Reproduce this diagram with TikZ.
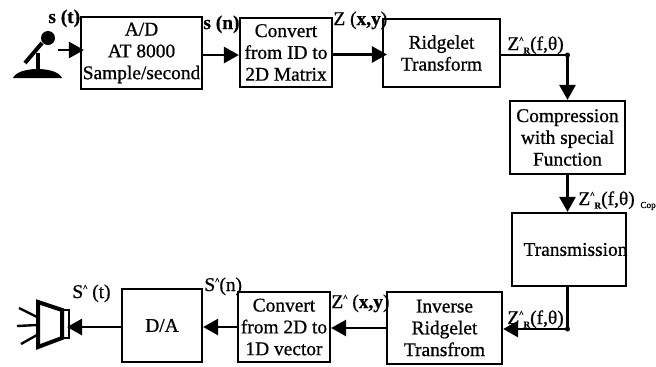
\documentclass[tikz,border=0pt]{standalone}
\usepackage{fontspec}
\setmainfont[RawFeature={embolden=0.8}]{Liberation Serif}
\usetikzlibrary{arrows.meta}

\tikzset{
  block/.style={rectangle, draw, line width=1.1pt, align=center, inner sep=0pt,
    font=\fontsize{9.7}{10.9}\selectfont},
  signal/.style={inner sep=0pt, anchor=base west,
    font=\fontsize{9.7}{10.9}\selectfont},
  wire/.style={line width=1.3pt, -{Triangle[length=7.5pt,width=8pt]}},
  junction/.style={circle, fill, inner sep=0pt, minimum size=2.5pt}
}
\newcommand{\hatmark}{\raisebox{3.6pt}{\fontsize{4.5}{5}\selectfont\^{}}}
\newcommand{\zhat}{Z\hatmark\raisebox{-1.8pt}{\fontsize{4.6}{5}\selectfont\textbf{R}}(f,θ)}

\begin{document}
\begin{tikzpicture}[x=0.5pt,y=-0.5pt]
  \useasboundingbox (0,0) rectangle (656,366);

  \node (ad) [block, minimum width=60.5pt, minimum height=36pt] at (141.5,53)
  {A/D\\AT 8000\\Sample/second};
  \node (convone) [block, minimum width=46pt, minimum height=34.5pt] at (286,52.5)
  {Convert\\from ID to\\2D Matrix};
  \node (ridge) [block, minimum width=58.5pt, minimum height=34pt] at (441.5,53)
  {Ridgelet\\Transform};
  \node (comp) [block, minimum width=57.5pt, minimum height=36.5pt] at (567.5,137.5)
  {Compression\\with special\\Function};
  \node (trans) [block, minimum width=57pt, minimum height=36.5pt] at (569,249.5)
  {\makebox[0pt]{\hspace{6.5pt}Transmission}};
  \node (inv) [block, minimum width=57.5pt, minimum height=36pt] at (444.5,328)
  {Inverse\\Ridgelet\\Transfrom};
  \node (convtwo) [block, minimum width=46pt, minimum height=35pt] at (284,327)
  {Convert\\from 2D to\\1D vector};
  \node (da) [block, minimum width=40pt, minimum height=36.5pt] at (162,325.5)
  {D/A};

  % signal names
  \node (st) [signal] at (48,23) {\textbf{s (t)}};
  \node (sn) [signal] at (203,29) {\textbf{s (n)}};
  \node (zxy) [signal] at (333,25) {Z (\textbf{x,y})};
  \node (zr) [signal] at (507,50) {\zhat};
  \node (zrcop) [signal] at (578,205) {\zhat};
  \node (cop) [signal, font=\fontsize{4.6}{5}\selectfont] at (640,208) {Cop};
  \node (zrback) [signal] at (507,324) {\zhat};
  \node (zback) [signal] at (331,308) {Z\hatmark\ (\textbf{x,y})};
  \node (shatn) [signal] at (204,291) {S\hatmark(n)};
  \node (shatt) [signal] at (72,298) {S\hatmark\ (t)};

  % microphone
  \fill (48,38) circle (7);
  \draw [line width=2pt] (42,43) -- (25,63);
  \draw [line width=2pt] (38,53) -- (38,72);
  \fill (13,78) .. controls (18,66) and (57,66) .. (62,78) -- cycle;

  % loudspeaker
  \draw [line width=2pt] (38,302) -- (62,310) -- (62,338) -- (38,347) -- cycle;
  \draw [line width=1.1pt] (62,310) rectangle (69,338);
  \draw [line width=1.2pt] (19,308) -- (37,317);
  \draw [line width=1.2pt] (17,326) -- (37,325);
  \draw [line width=1.2pt] (21,344) -- (37,335);

  \coordinate (micout) at (58,50);
  \coordinate (spkin) at (67,327);
  \coordinate (topcorner) at ([yshift=-1pt]ridge.east -| comp.north);
  \coordinate (lowcorner) at ([yshift=-0.5pt]inv.east -| comp.south);

  \draw [wire, shorten >=-2pt] (micout) -- (micout -| ad.west);
  \draw [wire] ([yshift=-1pt]ad.east) -- ([yshift=-1pt]ad.east -| convone.west);
  \draw [wire, shorten >=-2.5pt] ([yshift=-1pt]convone.east) -- ([yshift=-1pt]convone.east -| ridge.west);
  \draw [wire] ([yshift=-1pt]ridge.east) -- (topcorner) -- (comp.north);
  \draw [wire] (comp.south) -- (comp.south |- trans.north);
  \draw [wire] (comp.south |- trans.south) -- (lowcorner) -- (lowcorner -| inv.east);
  \draw [wire] (inv.west) -- (inv.west -| convtwo.east);
  \draw [wire] (convtwo.west) -- (convtwo.west -| da.east);
  \draw [wire] (da.west |- spkin) -- (spkin);

  \node (dotone) [junction] at (topcorner) {};
  \node (dottwo) [junction] at (lowcorner) {};
\end{tikzpicture}
\end{document}
